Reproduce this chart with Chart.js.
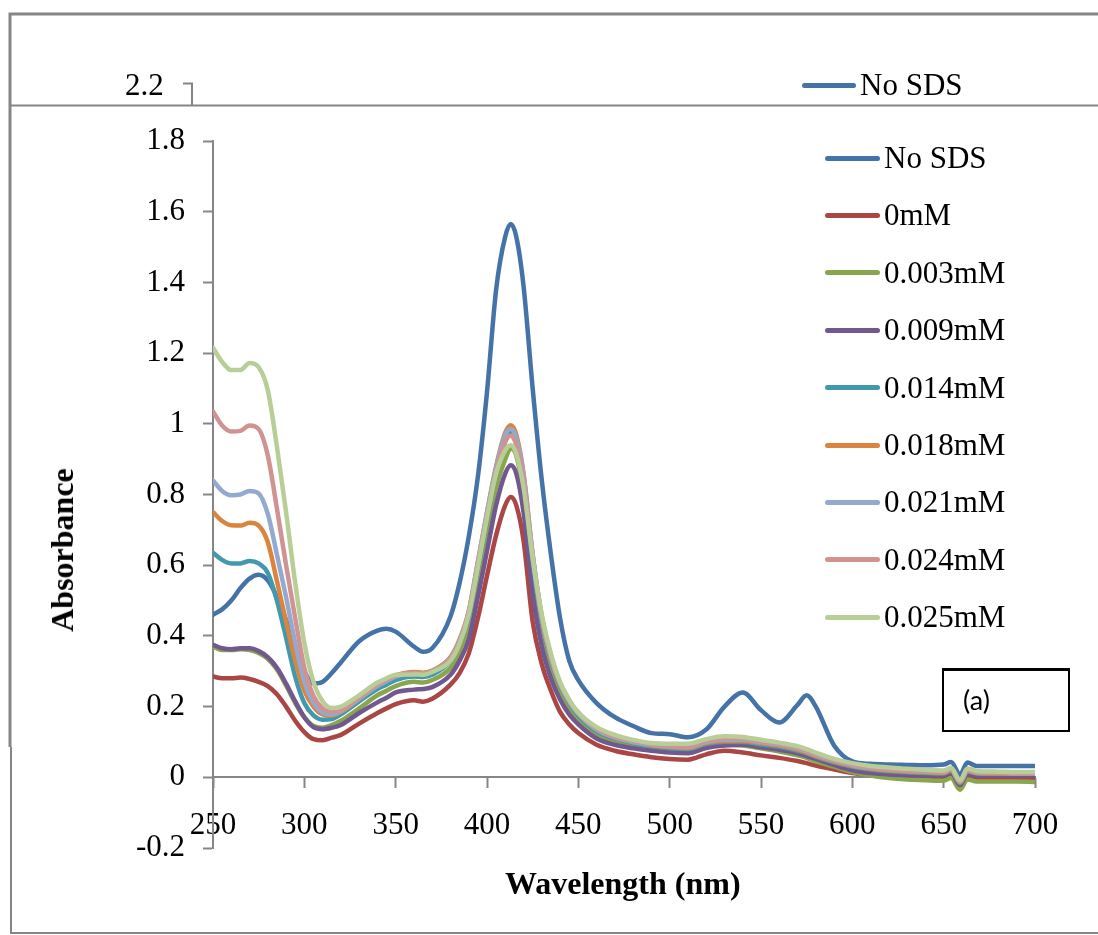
<!DOCTYPE html>
<html>
<head>
<meta charset="utf-8">
<script src="https://cdn.jsdelivr.net/npm/chart.js@4.4.1/dist/chart.umd.min.js"></script>
<style>
  body { margin: 0; background: #fff; }
  #wrap { position: relative; width: 1098px; height: 935px; font-family: 'Liberation Serif', 'Times New Roman', serif; }
  #chart { position: absolute; left: 0; top: 0; }
  .txt { position: absolute; color: #000; font-size: 31px; line-height: 30px; white-space: nowrap; }
  .axis-title { position: absolute; font-weight: bold; font-size: 32px; line-height: 32px; white-space: nowrap; color: #000; }
  .leg-item { position: absolute; height: 30px; display: flex; align-items: center; }
  .leg-line { display: inline-block; width: 55px; height: 5px; border-radius: 2.5px; }
  .leg-text { font-size: 31px; line-height: 30px; margin-left: 4px; color: #000; }
  #tag { position: absolute; left: 942px; top: 668px; width: 124px; height: 59px; border: 2px solid #000; border-top-width: 3px; }
  #tag span { position: absolute; left: 19px; top: 14px; font-family: Lato, 'Open Sans', sans-serif; font-size: 27px; line-height: 30px; }
</style>
</head>
<body>
<div id="wrap">
  <canvas id="chart" width="1098" height="935"></canvas>
  <div class="txt" style="left:125px; top:70px;">2.2</div>
  <div id="legend"></div>
  <div id="tag"><span>(a)</span></div>
  <div class="axis-title" style="left:505px; top:867px;">Wavelength (nm)</div>
  <div class="axis-title" style="left:62px; top:550px; transform: translate(-50%, -50%) rotate(-90deg);">Absorbance</div>
</div>
<script>
// wavelength grid (nm)
const wavelength = [250, 255, 260, 265, 270, 275, 280, 285, 290, 295, 300, 305, 310, 315, 320, 330, 340, 345, 350, 360,
  365, 370, 380, 385, 390, 395, 400, 405, 410, 413, 416, 420, 425, 430, 435, 440, 445, 450, 460, 470,
  480, 490, 500, 510, 520, 530, 540, 550, 560, 570, 575, 580, 590, 600, 610, 620, 630, 640, 650, 654,
  659, 663, 668, 680, 690, 700];

// absorbance for each sample
const noSDS = [0.46, 0.475, 0.50, 0.535, 0.562, 0.573, 0.557, 0.51, 0.445, 0.37,
  0.30, 0.265, 0.27, 0.295, 0.325, 0.385, 0.415, 0.42, 0.412, 0.37,
  0.355, 0.365, 0.455, 0.55, 0.68, 0.85, 1.09, 1.38, 1.53, 1.565,
  1.53, 1.39, 1.10, 0.84, 0.63, 0.45, 0.33, 0.275, 0.21, 0.17,
  0.145, 0.125, 0.122, 0.113, 0.135, 0.20, 0.24, 0.19, 0.155, 0.205,
  0.232, 0.20, 0.09, 0.045, 0.038, 0.036, 0.035, 0.034, 0.036, 0.043,
  0.008, 0.042, 0.032, 0.032, 0.032, 0.032];
const sds0 = [0.285, 0.28, 0.28, 0.282, 0.278, 0.27, 0.258, 0.235, 0.2, 0.16,
  0.128, 0.108, 0.105, 0.112, 0.12, 0.152, 0.182, 0.195, 0.207, 0.218,
  0.214, 0.222, 0.262, 0.295, 0.35, 0.45, 0.57, 0.685, 0.77, 0.793,
  0.77, 0.67, 0.44, 0.32, 0.245, 0.185, 0.15, 0.125, 0.092, 0.075,
  0.065, 0.057, 0.052, 0.05, 0.065, 0.075, 0.07, 0.062, 0.055, 0.046,
  0.04, 0.033, 0.022, 0.012, 0.006, 0.0, -0.003, -0.005, -0.005, 0.002,
  -0.03, 0.0, -0.006, -0.005, -0.005, -0.006];
const sds003 = [0.37, 0.36, 0.36, 0.362, 0.36, 0.352, 0.335, 0.305, 0.26, 0.21,
  0.17, 0.145, 0.14, 0.148, 0.16, 0.195, 0.232, 0.245, 0.258, 0.27,
  0.268, 0.275, 0.31, 0.355, 0.43, 0.56, 0.69, 0.82, 0.9, 0.93,
  0.91, 0.8, 0.56, 0.4, 0.305, 0.24, 0.19, 0.16, 0.12, 0.1,
  0.087, 0.078, 0.072, 0.07, 0.085, 0.092, 0.09, 0.082, 0.073, 0.062,
  0.055, 0.045, 0.03, 0.015, 0.005, -0.002, -0.006, -0.008, -0.01, -0.002,
  -0.035, -0.006, -0.012, -0.012, -0.012, -0.013];
const sds009 = [0.375, 0.365, 0.362, 0.365, 0.365, 0.357, 0.34, 0.31, 0.265, 0.215,
  0.17, 0.142, 0.136, 0.14, 0.148, 0.182, 0.212, 0.225, 0.24, 0.248,
  0.25, 0.255, 0.29, 0.33, 0.39, 0.51, 0.64, 0.77, 0.86, 0.883,
  0.86, 0.75, 0.52, 0.37, 0.28, 0.22, 0.178, 0.15, 0.11, 0.092,
  0.082, 0.075, 0.07, 0.068, 0.083, 0.09, 0.092, 0.085, 0.078, 0.068,
  0.06, 0.052, 0.035, 0.02, 0.012, 0.008, 0.006, 0.005, 0.005, 0.013,
  -0.022, 0.01, 0.005, 0.005, 0.005, 0.005];
const sds014 = [0.635, 0.615, 0.605, 0.605, 0.612, 0.605, 0.578, 0.5, 0.395, 0.285,
  0.21, 0.175, 0.163, 0.165, 0.178, 0.215, 0.25, 0.262, 0.275, 0.285,
  0.284, 0.29, 0.33, 0.38, 0.455, 0.59, 0.73, 0.86, 0.95, 0.975,
  0.95, 0.84, 0.61, 0.44, 0.33, 0.26, 0.21, 0.175, 0.13, 0.11,
  0.097, 0.088, 0.082, 0.08, 0.094, 0.1, 0.1, 0.093, 0.086, 0.075,
  0.068, 0.058, 0.042, 0.03, 0.022, 0.017, 0.014, 0.012, 0.011, 0.019,
  -0.016, 0.017, 0.011, 0.01, 0.01, 0.01];
const sds018 = [0.75, 0.725, 0.713, 0.712, 0.72, 0.712, 0.665, 0.555, 0.44, 0.33,
  0.245, 0.2, 0.178, 0.175, 0.185, 0.222, 0.26, 0.275, 0.288, 0.298,
  0.296, 0.302, 0.34, 0.39, 0.47, 0.61, 0.75, 0.88, 0.975, 0.996,
  0.97, 0.86, 0.63, 0.455, 0.34, 0.265, 0.215, 0.18, 0.135, 0.112,
  0.1, 0.09, 0.085, 0.082, 0.097, 0.103, 0.103, 0.096, 0.089, 0.078,
  0.07, 0.06, 0.044, 0.032, 0.024, 0.019, 0.016, 0.014, 0.012, 0.02,
  -0.015, 0.018, 0.012, 0.011, 0.01, 0.01];
const sds021 = [0.84, 0.81, 0.798, 0.8, 0.81, 0.803, 0.745, 0.63, 0.51, 0.38,
  0.27, 0.21, 0.183, 0.177, 0.187, 0.222, 0.258, 0.272, 0.285, 0.295,
  0.293, 0.3, 0.338, 0.388, 0.468, 0.608, 0.748, 0.876, 0.968, 0.986,
  0.96, 0.855, 0.63, 0.452, 0.338, 0.264, 0.214, 0.18, 0.135, 0.113,
  0.1, 0.092, 0.087, 0.085, 0.1, 0.106, 0.106, 0.099, 0.092, 0.081,
  0.073, 0.063, 0.047, 0.034, 0.026, 0.021, 0.018, 0.016, 0.014, 0.022,
  -0.013, 0.02, 0.013, 0.012, 0.011, 0.011];
const sds024 = [1.035, 0.995, 0.978, 0.98, 0.995, 0.985, 0.91, 0.76, 0.6, 0.45,
  0.31, 0.23, 0.195, 0.185, 0.19, 0.225, 0.262, 0.276, 0.288, 0.296,
  0.294, 0.3, 0.336, 0.385, 0.463, 0.6, 0.738, 0.862, 0.95, 0.967,
  0.94, 0.84, 0.625, 0.45, 0.338, 0.266, 0.217, 0.183, 0.138, 0.116,
  0.103, 0.095, 0.09, 0.088, 0.103, 0.109, 0.109, 0.102, 0.095, 0.084,
  0.076, 0.066, 0.05, 0.037, 0.028, 0.023, 0.02, 0.018, 0.016, 0.024,
  -0.011, 0.022, 0.015, 0.013, 0.012, 0.012];
const sds025 = [1.215, 1.175, 1.152, 1.152, 1.172, 1.16, 1.095, 0.935, 0.75, 0.55,
  0.38, 0.27, 0.215, 0.196, 0.2, 0.232, 0.268, 0.28, 0.29, 0.291,
  0.29, 0.298, 0.33, 0.378, 0.46, 0.595, 0.735, 0.86, 0.925, 0.939,
  0.915, 0.82, 0.62, 0.46, 0.35, 0.27, 0.22, 0.183, 0.142, 0.12,
  0.106, 0.097, 0.095, 0.095, 0.108, 0.116, 0.114, 0.106, 0.098, 0.088,
  0.08, 0.07, 0.052, 0.04, 0.032, 0.028, 0.024, 0.021, 0.019, 0.027,
  -0.008, 0.025, 0.018, 0.016, 0.015, 0.015];

const seriesNames = ['No SDS', '0mM', '0.003mM', '0.009mM', '0.014mM', '0.018mM', '0.021mM', '0.024mM', '0.025mM'];
const seriesValues = [noSDS, sds0, sds003, sds009, sds014, sds018, sds021, sds024, sds025];

// axis ticks
const wlTicks = [250, 300, 350, 400, 450, 500, 550, 600, 650, 700];
const absTicks = [-0.2, 0, 0.2, 0.4, 0.6, 0.8, 1, 1.2, 1.4, 1.6, 1.8];

// office-2007 palette
const colors = ['#4572A7', '#AA4643', '#89A54E', '#71588F', '#4198AF', '#DB843D', '#93A9CF', '#D19392', '#B9CD96'];
const axisGray = '#868686';

const datasets = seriesNames.map((name, i) => ({
  label: name,
  data: wavelength.map((w, j) => ({ x: w, y: seriesValues[i][j] })),
  borderColor: colors[i],
  backgroundColor: colors[i],
  order: seriesNames.length - i   // later samples painted on top
}));

// html legend inside the plot
const legendEl = document.getElementById('legend');
seriesNames.forEach((name, i) => {
  const item = document.createElement('div');
  item.className = 'leg-item';
  item.style.left = '825px';
  item.style.top = (143 + i * 57.4) + 'px';
  item.innerHTML = `<span class="leg-line" style="background:${colors[i]}"></span><span class="leg-text">${name}</span>`;
  legendEl.appendChild(item);
});
// stray header entry above the frame line
const extra = document.createElement('div');
extra.className = 'leg-item';
extra.style.left = '802px';
extra.style.top = '70px';
extra.innerHTML = `<span class="leg-line" style="background:${colors[0]};width:54px"></span><span class="leg-text">${seriesNames[0]}</span>`;
legendEl.appendChild(extra);

// outer frame, header rule and the stray corner tick
const frameLines = {
  id: 'frameLines',
  beforeDraw(chart) {
    const c = chart.ctx;
    c.save();
    c.strokeStyle = axisGray;
    c.lineCap = 'butt';
    c.lineWidth = 3;
    c.beginPath();
    c.moveTo(10, 747); c.lineTo(10, 14); c.lineTo(1098, 14);
    c.stroke();
    c.lineWidth = 2;
    c.beginPath();
    c.moveTo(11, 747); c.lineTo(11, 933); c.lineTo(1098, 933);
    c.stroke();
    c.beginPath();
    c.moveTo(11, 105.5); c.lineTo(1098, 105.5);
    c.stroke();
    c.beginPath();
    c.moveTo(183, 83.5); c.lineTo(192, 83.5); c.lineTo(192, 105);
    c.stroke();
    c.restore();
  }
};

new Chart(document.getElementById('chart'), {
  type: 'line',
  data: { datasets },
  plugins: [frameLines],
  options: {
    responsive: false,
    animation: false,
    devicePixelRatio: 1,
    layout: { padding: { left: 0, top: 141, right: 63, bottom: 87 } },
    plugins: { legend: { display: false }, tooltip: { enabled: false } },
    elements: {
      point: { radius: 0 },
      line: { borderWidth: 4.5, cubicInterpolationMode: 'monotone', borderCapStyle: 'round', borderJoinStyle: 'round' }
    },
    scales: {
      x: {
        type: 'linear',
        min: 250, max: 700,
        position: { y: 0 },
        afterBuildTicks: s => { s.ticks = wlTicks.map(v => ({ value: v })); },
        grid: { drawOnChartArea: false, drawTicks: true, tickLength: 10, tickWidth: 2, tickColor: axisGray },
        border: { display: true, color: axisGray, width: 2 },
        ticks: { padding: 20, color: '#000', maxRotation: 0, autoSkip: false,
                 font: { family: "'Liberation Serif', serif", size: 31 } }
      },
      y: {
        type: 'linear',
        min: -0.2, max: 1.8,
        position: 'left',
        afterBuildTicks: s => { s.ticks = absTicks.map(v => ({ value: v })); },
        afterFit: s => { s.width = 213; },
        grid: { drawOnChartArea: false, drawTicks: true, tickLength: 10, tickWidth: 2, tickColor: axisGray },
        border: { display: true, color: axisGray, width: 2 },
        ticks: { padding: 18, color: '#000', autoSkip: false,
                 font: { family: "'Liberation Serif', serif", size: 31 },
                 callback: v => String(Number(v.toFixed(1))) }
      }
    }
  }
});
</script>
</body>
</html>
